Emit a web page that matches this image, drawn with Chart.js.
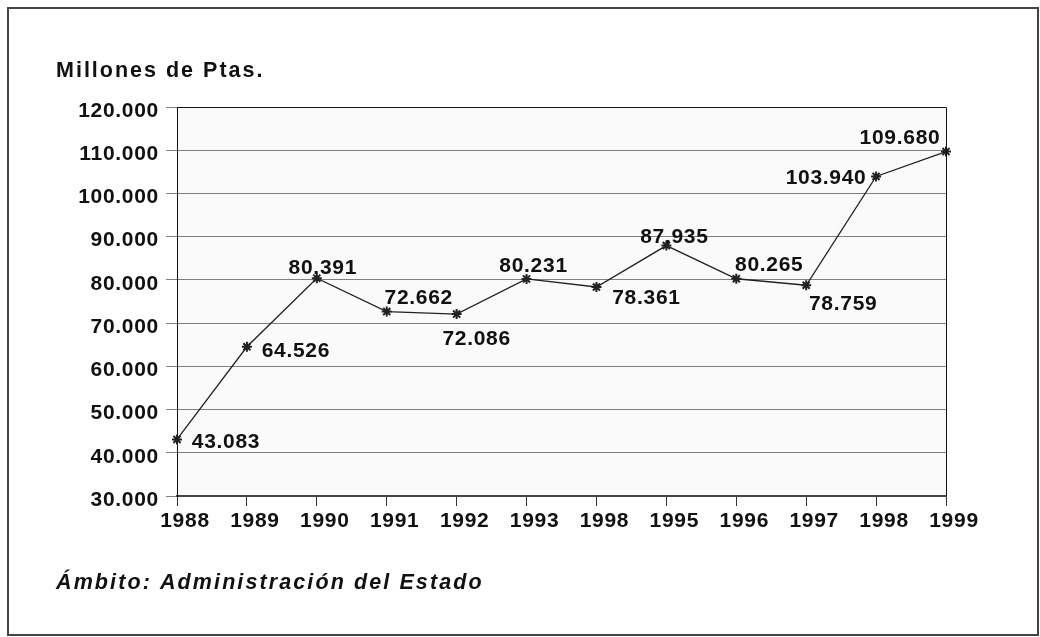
<!DOCTYPE html>
<html>
<head>
<meta charset="utf-8">
<script src="https://cdn.jsdelivr.net/npm/chart.js@4.4.0/dist/chart.umd.min.js"></script>
<style>
  html, body { margin: 0; padding: 0; background: #fff; }
  canvas { display: block; }
</style>
</head>
<body>
<canvas id="gastoChart" width="1040" height="637"></canvas>
<script>
// Data
const years = ["1988","1989","1990","1991","1992","1993","1998","1995","1996","1997","1998","1999"];
const millones = [43083, 64526, 80391, 72662, 72086, 80231, 78361, 87935, 80265, 78759, 103940, 109680];
const yMin = 30000, yMax = 120000, yStep = 10000;
const unitTitle = "Millones de Ptas.";
const footNote = "Ámbito: Administración del Estado";

// label placement around each point (centre offset, px)
const labelShift = [[49,3],[49,4],[6,-10],[32,-13],[20,25],[7,-13],[50,11],[8,-8],[33,-14],[37,19],[-50,2],[-46,-13]];

const fmt = (v) => String(Math.round(v)).replace(/\B(?=(\d{3})+(?!\d))/g, ".");
const FONT = '"Liberation Sans", Arial, sans-serif';

// background, frame, texts
const decor = {
  id: "decor",
  beforeDraw(chart) {
    const { ctx, chartArea: a } = chart;
    ctx.save();
    ctx.fillStyle = "#fafafa";
    ctx.fillRect(a.left, a.top, a.right - a.left, a.bottom - a.top);
    ctx.restore();
    ctx.letterSpacing = "0.7px";
  },
  afterDatasetsDraw(chart) {
    const { ctx } = chart;
    const meta = chart.getDatasetMeta(0);
    ctx.save();
    ctx.font = "bold 21px " + FONT;
    ctx.fillStyle = "#111";
    ctx.textAlign = "center";
    ctx.textBaseline = "middle";
    meta.data.forEach((pt, i) => {
      const [dx, dy] = labelShift[i];
      ctx.fillText(fmt(millones[i]), pt.x + dx, pt.y + dy);
    });
    ctx.restore();
  },
  afterDraw(chart) {
    const { ctx, chartArea: a } = chart;
    ctx.save();
    ctx.strokeStyle = "#111";
    ctx.lineWidth = 1;
    ctx.beginPath();
    ctx.moveTo(a.left, a.top + 0.5);
    ctx.lineTo(a.right + 0.5, a.top + 0.5);
    ctx.lineTo(a.right + 0.5, a.bottom);
    ctx.stroke();

    ctx.strokeStyle = "#444";
    ctx.lineWidth = 2;
    ctx.strokeRect(8, 8, 1030, 627);

    ctx.fillStyle = "#111";
    ctx.textAlign = "left";
    ctx.textBaseline = "middle";
    ctx.letterSpacing = "2px";
    ctx.font = "bold 21.5px " + FONT;
    ctx.fillText(unitTitle, 56, 71);
    ctx.letterSpacing = "2.1px";
    ctx.font = "italic bold 21.5px " + FONT;
    ctx.fillText(footNote, 56, 583);
    ctx.restore();
  }
};

new Chart(document.getElementById("gastoChart").getContext("2d"), {
  type: "line",
  data: {
    labels: years,
    datasets: [{
      data: millones,
      borderColor: "#222",
      borderWidth: 1.3,
      tension: 0,
      fill: false,
      pointStyle: "star",
      pointRadius: 5,
      pointBorderWidth: 2,
      pointBorderColor: "#222",
      pointBackgroundColor: "#222"
    }]
  },
  options: {
    responsive: false,
    animation: false,
    layout: { padding: { top: 107, right: 94, left: 0, bottom: 0 } },
    plugins: { legend: { display: false }, tooltip: { enabled: false }},
    scales: {
      x: {
        offset: false,
        afterFit: (s) => { s.height = 141; },
        grid: { drawOnChartArea: false, drawTicks: true, tickLength: 10, color: "#333", lineWidth: 1 },
        border: { color: "#444", width: 2 },
        ticks: { color: "#111", font: { family: FONT, size: 21, weight: "bold" }, padding: 3, labelOffset: 8, autoSkip: false, maxRotation: 0 }
      },
      y: {
        min: yMin, max: yMax,
        afterFit: (s) => { s.width = 177; },
        grid: { color: "#808080", lineWidth: 1, drawTicks: true, tickLength: 11 },
        border: { color: "#111", width: 1 },
        ticks: { stepSize: yStep, color: "#111", font: { family: FONT, size: 21, weight: "bold" }, padding: 7, labelOffset: 4, callback: (v) => fmt(v) }
      }
    }
  },
  plugins: [decor]
});
</script>
</body>
</html>
